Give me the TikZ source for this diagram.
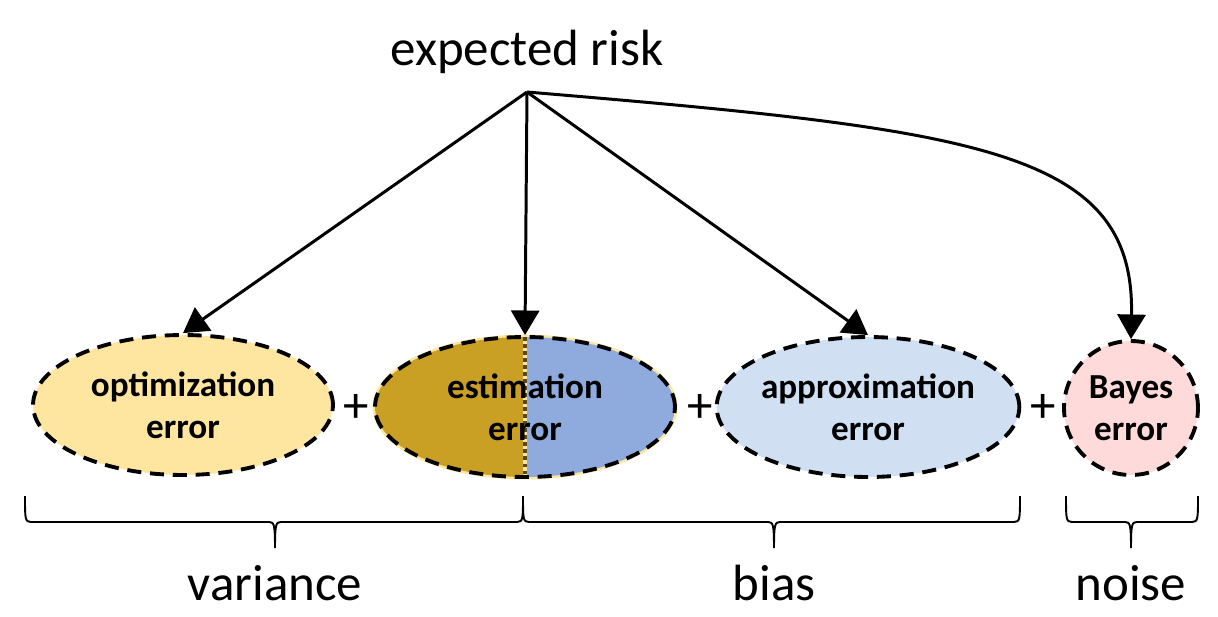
\documentclass[tikz,border=0pt]{standalone}
\usepackage{fontspec}
\setmainfont{Carlito}
\usetikzlibrary{shapes,arrows.meta}
\definecolor{optfill}{RGB}{255,230,160}
\definecolor{estgold}{RGB}{201,160,36}
\definecolor{estblue}{RGB}{143,170,220}
\definecolor{appfill}{RGB}{208,224,242}
\definecolor{bayfill}{RGB}{255,218,218}
\definecolor{divbrown}{RGB}{90,70,30}
\tikzstyle{el}=[ellipse,draw=black,dash pattern=on 8pt off 5pt,line width=2.2pt,minimum width=6cm,minimum height=2.8cm,inner sep=0pt,align=center,font=\fontsize{20}{24}\selectfont\bfseries]
\tikzstyle{arr}=[-{Triangle[length=14pt,width=16pt]},line width=1.7pt]
\tikzstyle{big}=[font=\fontsize{29}{34}\selectfont]
\tikzstyle{brc}=[line width=1.1pt]
% curly brace under a group of terms: left end, tip, right end
\newcommand{\ubrace}[3]{%
\draw[brc] (#1,496) .. controls (#1,519) and (#1,522) .. (#1+6,522) -- (#2-6,522)
  .. controls (#2-1,522) and (#2,524) .. (#2,548)
  .. controls (#2,524) and (#2+1,522) .. (#2+6,522) -- (#3-6,522)
  .. controls (#3,522) and (#3,519) .. (#3,496);}

\begin{document}
\begin{tikzpicture}[x=0.02cm,y=-0.02cm]
\useasboundingbox (0,0) rectangle (1218,616);
\node[big,anchor=base] (risk) at (527,65) {expected risk};
\coordinate (top) at (527,92);
\node[el,fill=optfill] (opt) at (183,405) {optimization\\error};
\node[el,preaction={draw=optfill,solid,line width=2.8pt},
  path picture={
  \fill[estgold] (path picture bounding box.south west) rectangle (path picture bounding box.north);
  \fill[estblue] (path picture bounding box.south) rectangle (path picture bounding box.north east);
  \draw[solid,line width=2.4pt,optfill] (path picture bounding box.north) -- (path picture bounding box.south);
  \draw[line width=2.4pt,divbrown,dash pattern=on 2pt off 2pt] (path picture bounding box.north) -- (path picture bounding box.south);
  }] (est) at (525,407) {estimation\\error};
\node[el,fill=appfill] (app) at (868,407) {approximation\\error};
\node[el,circle,fill=bayfill,minimum size=2.68cm] (bay) at (1131,408) {Bayes\\error};
\node[big] (plus1) at (356,408) {+};
\node[big] (plus2) at (700,408) {+};
\node[big] (plus3) at (1043,408) {+};
\draw[arr] (top) -- (opt.north);
\draw[arr] (top) -- (est.north);
\draw[arr] (top) -- (app.north);
\draw[arr] (top) .. controls (980,130) and (1135,150) .. (bay.north);
\ubrace{25}{275}{523}
\ubrace{523}{774}{1020}
\ubrace{1066}{1131}{1198}
\node[big,anchor=base] (var) at (275,600) {variance};
\node[big,anchor=base] (bias) at (774,600) {bias};
\node[big,anchor=base] (noise) at (1131,600) {noise};
\end{tikzpicture}
\end{document}
